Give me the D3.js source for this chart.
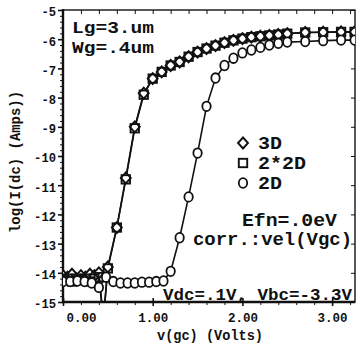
<!DOCTYPE html>
<html>
<head>
<meta charset="utf-8">
<script src="https://cdn.jsdelivr.net/npm/d3@7"></script>
<style>
  html, body { margin: 0; padding: 0; background: #fff; }
  svg { display: block; }
  text { font-family: "Liberation Mono", "Courier New", monospace; font-weight: bold; fill: #111; }
</style>
</head>
<body>
<svg id="chart" width="358" height="345"></svg>
<script>
// gate sweep, log current; 3D and 2*2D overlap, 2D shifted right
const v3D    = [0.00, 0.05, 0.10, 0.15, 0.20, 0.25, 0.30, 0.35, 0.40, 0.45, 0.50, 0.60, 0.70, 0.80, 0.90, 1.00, 1.10, 1.20, 1.30, 1.40, 1.50, 1.60, 1.70, 1.80, 1.90, 2.00, 2.10, 2.20, 2.30, 2.40, 2.50, 2.70, 2.90, 3.10, 3.25];
const log3D  = [-14.10, -14.15, -14.05, -14.20, -14.10, -14.15, -14.05, -14.10, -14.00, -15.60, -13.80, -12.45, -10.75, -9.00, -7.85, -7.35, -7.12, -6.90, -6.78, -6.60, -6.44, -6.32, -6.22, -6.12, -6.04, -5.98, -5.93, -5.90, -5.87, -5.84, -5.81, -5.77, -5.76, -5.75, -5.75];
const log2x2D = [-14.25, -14.20, -14.30, -14.20, -14.25, -14.20, -14.30, -14.20, -14.15, -15.60, -13.85, -12.45, -10.80, -9.05, -7.90, -7.35, -7.12, -6.90, -6.78, -6.60, -6.44, -6.32, -6.22, -6.12, -6.04, -5.98, -5.93, -5.90, -5.87, -5.84, -5.81, -5.77, -5.76, -5.75, -5.75];
const v2D    = [0.00, 0.08, 0.16, 0.24, 0.32, 0.40, 0.48, 0.56, 0.64, 0.72, 0.80, 0.88, 0.96, 1.04, 1.12, 1.20, 1.30, 1.40, 1.50, 1.60, 1.70, 1.80, 1.90, 2.00, 2.10, 2.20, 2.30, 2.40, 2.50, 2.70, 2.90, 3.10, 3.25];
const log2D  = [-14.30, -14.30, -14.28, -14.30, -14.35, -14.50, -14.15, -14.30, -14.35, -14.35, -14.35, -14.32, -14.32, -14.30, -14.28, -13.95, -12.80, -11.40, -9.90, -8.30, -7.33, -6.90, -6.65, -6.47, -6.37, -6.28, -6.20, -6.14, -6.10, -6.08, -6.05, -6.03, -6.03];
const xTicks = [0, 1, 2, 3];
const xTickLabels = ['0.00', '1.00', '2.00', '3.00'];
const yTicks = [-5, -6, -7, -8, -9, -10, -11, -12, -13, -14, -15];
const legendNames = ['3D', '2*2D', '2D'];
const notes = ['Lg=3.um', 'Wg=.4um'];

const svg = d3.select('#chart');
const L = 63, R = 355, T = 10, B = 302;
const x = d3.scaleLinear().domain([0, 3.255]).range([L, R]);
const y = d3.scaleLinear().domain([-15, -5]).range([B, T]);

svg.append('defs').append('clipPath').attr('id', 'plot')
  .append('rect').attr('x', L).attr('y', T).attr('width', R - L).attr('height', B - T);

// frame
svg.append('rect').attr('x', L).attr('y', T).attr('width', R - L).attr('height', B - T)
  .attr('fill', 'none').attr('stroke', '#111').attr('stroke-width', 1.4);
svg.append('line').attr('x1', L).attr('x2', L).attr('y1', T - 1).attr('y2', B + 1)
  .attr('stroke', '#111').attr('stroke-width', 2.4);
svg.append('line').attr('x1', L - 1).attr('x2', R).attr('y1', B).attr('y2', B)
  .attr('stroke', '#111').attr('stroke-width', 2.4);

// left axis: majors + minors outside
const yMinor = d3.range(-15, -5, 0.2).filter(v => Math.abs(v - Math.round(v)) > 0.01);
svg.append('g').attr('transform', `translate(${L},0)`)
  .call(d3.axisLeft(y).tickValues(yMinor).tickSize(3).tickFormat(''))
  .call(g => g.select('.domain').remove());
const yAx = svg.append('g').attr('transform', `translate(${L},0)`)
  .call(d3.axisLeft(y).tickValues(yTicks).tickSize(5).tickPadding(2).tickFormat(d3.format('d')))
  .call(g => g.select('.domain').remove());
yAx.selectAll('line').attr('stroke-width', 1.6);
yAx.selectAll('text')
  .attr('font-size', 13).attr('font-family', '"Liberation Mono", monospace').attr('font-weight', 'bold')
  .attr('dy', '0.45em').attr('fill', '#111')
  .text(d => String(d))
  .attr('textLength', d => String(d).length * 7.3).attr('lengthAdjust', 'spacingAndGlyphs');

// right axis majors (inward)
svg.append('g').attr('transform', `translate(${R},0)`)
  .call(d3.axisRight(y).tickValues(yTicks).tickSize(-4).tickFormat(''))
  .call(g => g.select('.domain').remove());

// bottom axis
const xMinor = d3.range(0, 3.26, 0.2).filter(v => Math.abs(v - Math.round(v)) > 0.01);
svg.append('g').attr('transform', `translate(0,${B})`)
  .call(d3.axisBottom(x).tickValues(xMinor).tickSize(3).tickFormat(''))
  .call(g => g.select('.domain').remove());
const xAx = svg.append('g').attr('transform', `translate(0,${B})`)
  .call(d3.axisBottom(x).tickValues(xTicks).tickSize(4).tickPadding(7).tickFormat((d, i) => xTickLabels[i]))
  .call(g => g.select('.domain').remove());
xAx.selectAll('line').attr('y1', -4).attr('stroke-width', 1.6);
xAx.selectAll('text')
  .attr('font-size', 13).attr('font-family', '"Liberation Mono", monospace').attr('font-weight', 'bold')
  .attr('fill', '#111')
  .attr('textLength', 30).attr('lengthAdjust', 'spacingAndGlyphs')
  .attr('dx', d => d === 0 ? 18 : 0);

// top axis ticks (inward)
svg.append('g').attr('transform', `translate(0,${T})`)
  .call(d3.axisTop(x).tickValues(d3.range(0.2, 3.26, 0.2)).tickSize(-4).tickFormat(''))
  .call(g => g.select('.domain').remove());

svg.selectAll('.tick line').attr('stroke', '#111');

// axis titles
svg.append('text').attr('transform', `translate(20,${(T + B) / 2 + 6}) rotate(-90)`)
  .attr('text-anchor', 'middle').attr('font-size', 14)
  .attr('textLength', 142).attr('lengthAdjust', 'spacingAndGlyphs')
  .text('log(I(dc) (Amps))');
svg.append('text').attr('x', 210).attr('y', 340).attr('text-anchor', 'middle').attr('font-size', 14)
  .attr('textLength', 106).attr('lengthAdjust', 'spacingAndGlyphs')
  .text('v(gc) (Volts)');

// curves
const plot = svg.append('g').attr('clip-path', 'url(#plot)');
const line = d3.line().x(d => x(d[0])).y(d => y(d[1]));
const series = [
  { name: legendNames[0], pts: d3.zip(v3D, log3D), sym: 'diamond' },
  { name: legendNames[1], pts: d3.zip(v3D, log2x2D), sym: 'square' },
  { name: legendNames[2], pts: d3.zip(v2D, log2D), sym: 'circle' },
];
series.forEach(s => {
  plot.append('path').datum(s.pts).attr('d', line)
    .attr('fill', 'none').attr('stroke', '#111').attr('stroke-width', 1.6);
});

function marker(g, sym, cx, cy) {
  if (sym === 'diamond') {
    g.append('path').attr('d', `M${cx},${cy - 5.5}L${cx + 5},${cy}L${cx},${cy + 5.5}L${cx - 5},${cy}Z`)
      .attr('fill', '#fff').attr('stroke', '#111').attr('stroke-width', 1.9);
  } else if (sym === 'square') {
    g.append('rect').attr('x', cx - 4.2).attr('y', cy - 4.2).attr('width', 8.4).attr('height', 8.4)
      .attr('fill', 'none').attr('stroke', '#111').attr('stroke-width', 1.9);
  } else {
    g.append('ellipse').attr('cx', cx).attr('cy', cy).attr('rx', 4.2).attr('ry', 4.8)
      .attr('fill', '#fff').attr('stroke', '#111').attr('stroke-width', 1.8);
  }
}
series.forEach(s => {
  s.pts.forEach(p => marker(plot, s.sym, x(p[0]), y(p[1])));
});

// legend
const lg = svg.append('g');
series.forEach((s, i) => {
  const ly = 143 + i * 20;
  marker(lg, s.sym, 243, ly);
  lg.append('text').attr('x', 258).attr('y', ly + 6).attr('font-size', 18)
    .attr('textLength', s.name.length * 12).attr('lengthAdjust', 'spacingAndGlyphs')
    .text(s.name);
});

// annotations
notes.forEach((t, i) => {
  svg.append('text').attr('x', 72).attr('y', 33 + i * 20).attr('font-size', 17)
    .attr('textLength', 82).attr('lengthAdjust', 'spacingAndGlyphs').text(t);
});
svg.append('text').attr('x', 242).attr('y', 226).attr('font-size', 18)
  .attr('textLength', 95).attr('lengthAdjust', 'spacingAndGlyphs').text('Efn=.0eV');
svg.append('text').attr('x', 193).attr('y', 245).attr('font-size', 18)
  .attr('textLength', 159).attr('lengthAdjust', 'spacingAndGlyphs').text('corr.:vel(Vgc)');
svg.append('text').attr('x', 163).attr('y', 300).attr('font-size', 16)
  .attr('textLength', 189).attr('lengthAdjust', 'spacingAndGlyphs').text('Vdc=.1V, Vbc=-3.3V');
</script>
</body>
</html>
